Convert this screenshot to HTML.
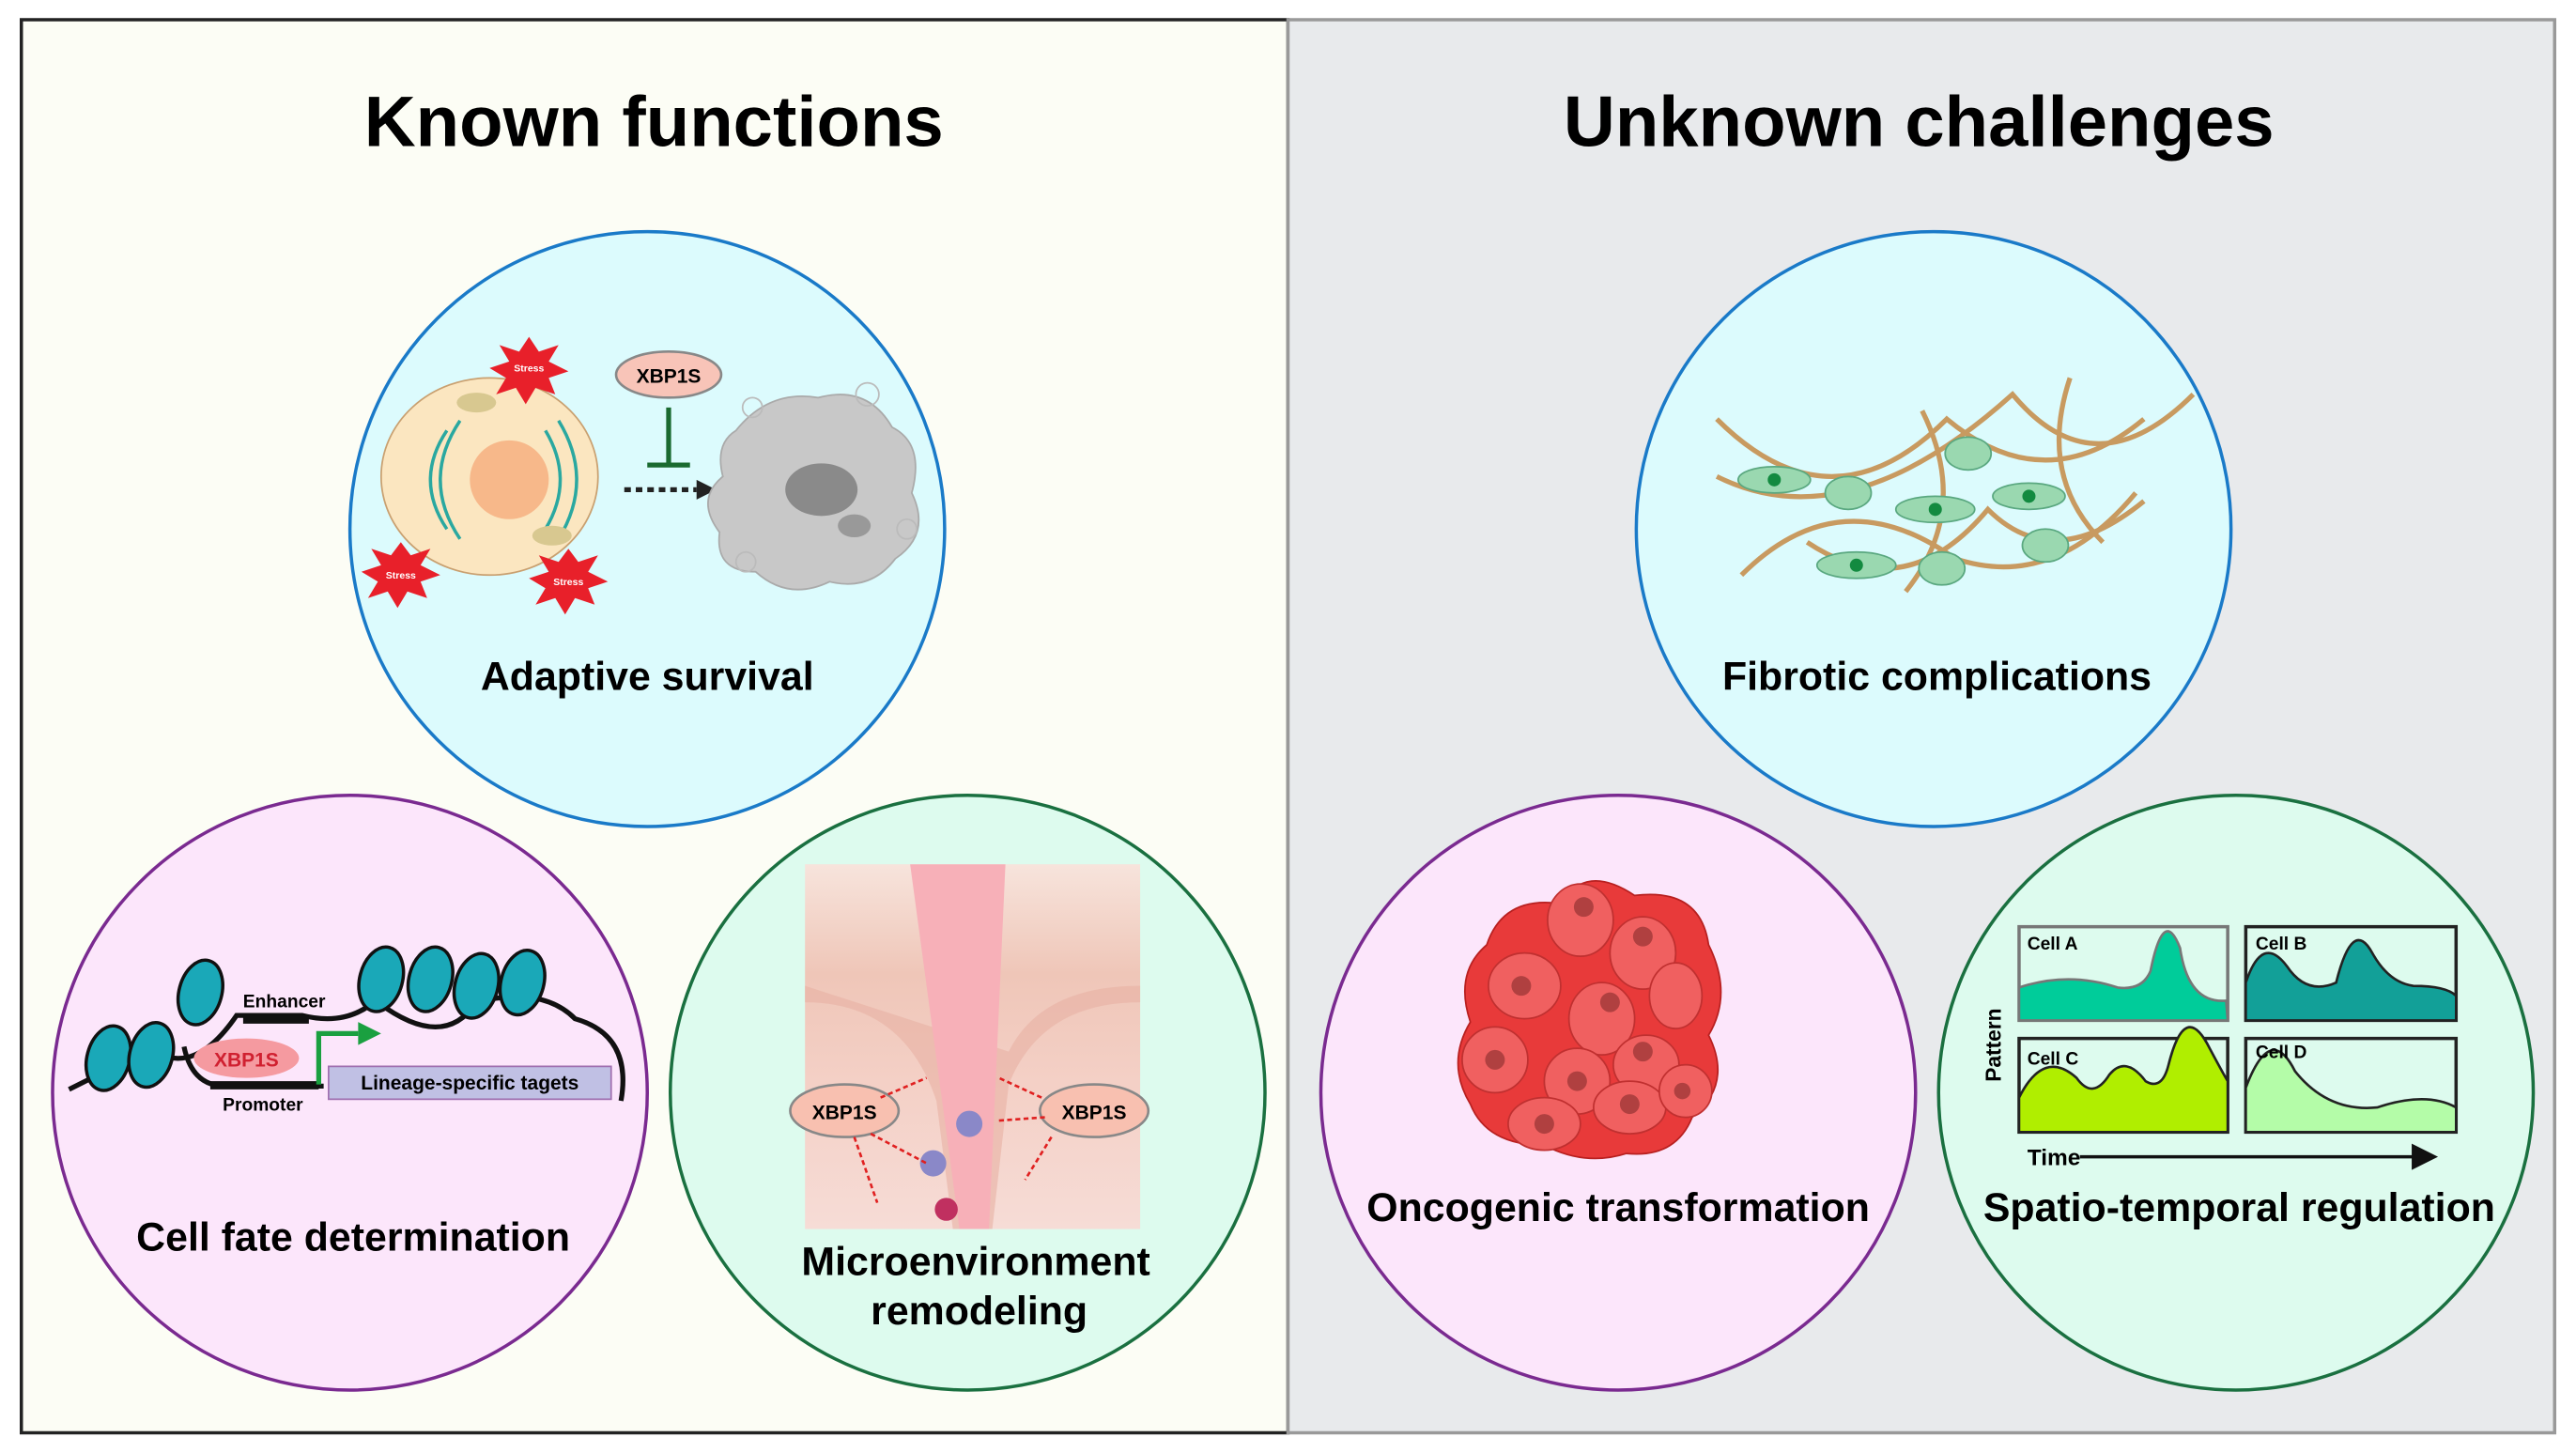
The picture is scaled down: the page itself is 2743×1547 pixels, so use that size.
<!DOCTYPE html>
<html><head><meta charset="utf-8"><style>
html,body{margin:0;padding:0;background:#fff;}
svg{display:block;}
text{font-family:"Liberation Sans",Arial,sans-serif;font-weight:bold;}
</style></head><body>
<svg width="2743" height="1547" viewBox="0 0 1568 884.3" preserveAspectRatio="none" xmlns="http://www.w3.org/2000/svg">
<rect x="0" y="0" width="1568" height="884.3" fill="#fff"/>
<rect x="13" y="12" width="771" height="860" fill="#fcfdf5" stroke="#222" stroke-width="2"/>
<rect x="784" y="12" width="771" height="860" fill="#e8eaec" stroke="#999" stroke-width="2"/>
<text x="398" y="89" font-size="43.5" text-anchor="middle">Known functions</text>
<text x="1168" y="89" font-size="43.5" text-anchor="middle">Unknown challenges</text>

<circle cx="394" cy="322" r="181" fill="#dcfbfd" stroke="#1a7ac8" stroke-width="2"/>
<circle cx="213" cy="665" r="181" fill="#fce6fb" stroke="#7a2a90" stroke-width="2"/>
<circle cx="589" cy="665" r="181" fill="#ddfbee" stroke="#1a7040" stroke-width="2"/>
<circle cx="1177" cy="322" r="181" fill="#dcfbfd" stroke="#1a7ac8" stroke-width="2"/>
<circle cx="985" cy="665" r="181" fill="#fce6fb" stroke="#7a2a90" stroke-width="2"/>
<circle cx="1361" cy="665" r="181" fill="#ddfbee" stroke="#1a7040" stroke-width="2"/>

<!-- adaptive survival -->
<ellipse cx="298" cy="290" rx="66" ry="60" fill="#fbe6c0" stroke="#c9a070" stroke-width="1"/>
<circle cx="310" cy="292" r="24" fill="#f7b88a"/>
<path d="M272 262 q-20 30 0 60 M280 256 q-24 36 0 72 M332 262 q18 30 0 60 M340 256 q22 36 0 72" fill="none" stroke="#2aa8a0" stroke-width="2"/>
<ellipse cx="290" cy="245" rx="12" ry="6" fill="#d8c890"/>
<ellipse cx="336" cy="326" rx="12" ry="6" fill="#d8c890"/>
<polygon points="322,205 328,214 340,210 334,220 346,226 334,230 338,240 326,236 320,246 314,236 302,240 308,230 298,224 310,220 304,210 316,214" fill="#e8202a"/>
<polygon points="244,330 250,338 262,334 256,344 268,350 256,354 260,364 248,360 242,370 236,360 224,364 230,354 220,348 232,344 226,334 238,338" fill="#e8202a"/>
<polygon points="346,334 352,342 364,338 358,348 370,354 358,358 362,368 350,364 344,374 338,364 326,368 332,358 322,352 334,348 328,338 340,342" fill="#e8202a"/>
<text x="322" y="226" font-size="6" fill="#fff" text-anchor="middle">Stress</text>
<text x="244" y="352" font-size="6" fill="#fff" text-anchor="middle">Stress</text>
<text x="346" y="356" font-size="6" fill="#fff" text-anchor="middle">Stress</text>
<ellipse cx="407" cy="228" rx="32" ry="14" fill="#f8c4b8" stroke="#888" stroke-width="1.5"/>
<text x="407" y="233" font-size="12" text-anchor="middle">XBP1S</text>
<line x1="407" y1="248" x2="407" y2="282" stroke="#1a6a30" stroke-width="3"/>
<line x1="394" y1="283" x2="420" y2="283" stroke="#1a6a30" stroke-width="3"/>
<line x1="380" y1="298" x2="424" y2="298" stroke="#222" stroke-width="3" stroke-dasharray="4,3"/>
<polygon points="424,292 436,298 424,304" fill="#222"/>
<path d="M448 262 q20 -25 50 -20 q30 -8 45 18 q20 10 12 40 q12 25 -10 40 q-15 20 -40 14 q-25 12 -45 -6 q-25 0 -22 -24 q-15 -20 2 -34 q-5 -20 8 -28z" fill="#c8c8c8" stroke="#aaa"/>
<ellipse cx="500" cy="298" rx="22" ry="16" fill="#8a8a8a"/>
<ellipse cx="520" cy="320" rx="10" ry="7" fill="#999"/>
<circle cx="458" cy="248" r="6" fill="none" stroke="#bbb"/><circle cx="528" cy="240" r="7" fill="none" stroke="#bbb"/>
<circle cx="552" cy="322" r="6" fill="none" stroke="#bbb"/><circle cx="454" cy="342" r="6" fill="none" stroke="#bbb"/>
<text x="394" y="420" font-size="24.5" text-anchor="middle">Adaptive survival</text>

<!-- cell fate -->
<path d="M42 663 q10 -5 20 -10 M84 632 q30 30 60 -14 l40 0 q40 10 60 -30 M112 637 q5 24 25 24 l60 0 M230 610 q40 30 60 0 q40 -10 60 10 q35 10 28 50" fill="none" stroke="#111" stroke-width="3"/>
<g fill="#1aa8b8" stroke="#111" stroke-width="2">
<ellipse cx="66" cy="644" rx="13" ry="20" transform="rotate(15 66 644)"/>
<ellipse cx="92" cy="642" rx="13" ry="20" transform="rotate(15 92 642)"/>
<ellipse cx="122" cy="604" rx="13" ry="20" transform="rotate(15 122 604)"/>
<ellipse cx="232" cy="596" rx="13" ry="20" transform="rotate(15 232 596)"/>
<ellipse cx="262" cy="596" rx="13" ry="20" transform="rotate(15 262 596)"/>
<ellipse cx="290" cy="600" rx="13" ry="20" transform="rotate(15 290 600)"/>
<ellipse cx="318" cy="598" rx="13" ry="20" transform="rotate(15 318 598)"/>
</g>
<rect x="148" y="618" width="40" height="5" fill="#111"/>
<text x="173" y="613" font-size="11" text-anchor="middle" font-weight="normal">Enhancer</text>
<ellipse cx="150" cy="644" rx="32" ry="12" fill="#f59aa0"/>
<text x="150" y="649" font-size="12" fill="#d02030" text-anchor="middle" font-weight="normal">XBP1S</text>
<rect x="128" y="658" width="66" height="5" fill="#111"/>
<text x="160" y="676" font-size="11" text-anchor="middle" font-weight="normal">Promoter</text>
<path d="M194 660 L194 629 L218 629" fill="none" stroke="#1aa040" stroke-width="3"/>
<polygon points="218,622 232,629 218,636" fill="#1aa040"/>
<rect x="200" y="649" width="172" height="20" fill="#c0c0e4" stroke="#a070b0"/>
<text x="286" y="663" font-size="12" text-anchor="middle" font-weight="normal">Lineage-specific tagets</text>
<text x="215" y="761" font-size="24.5" text-anchor="middle">Cell fate determination</text>

<!-- microenvironment -->
<defs><linearGradient id="sk" x1="0" y1="0" x2="0" y2="1"><stop offset="0" stop-color="#f7e4dc"/><stop offset="0.3" stop-color="#efc6b8"/><stop offset="0.6" stop-color="#f4d0c6"/><stop offset="1" stop-color="#f6dcd6"/></linearGradient></defs>
<rect x="490" y="526" width="204" height="222" fill="url(#sk)"/>
<path d="M490 610 q60 0 80 60 L580 748 L604 748 L614 660 q20 -50 80 -50 L694 600 q-60 0 -80 40 L490 600z" fill="#e8b0a4" opacity="0.6"/>
<path d="M554 526 L612 526 L602 748 L584 748z" fill="#f7b0b8"/>
<ellipse cx="514" cy="676" rx="33" ry="16" fill="#f8c0b0" stroke="#888" stroke-width="1.5"/>
<text x="514" y="681" font-size="12" text-anchor="middle">XBP1S</text>
<ellipse cx="666" cy="676" rx="33" ry="16" fill="#f8c0b0" stroke="#888" stroke-width="1.5"/>
<text x="666" y="681" font-size="12" text-anchor="middle">XBP1S</text>
<circle cx="590" cy="684" r="8" fill="#8a88c8"/><circle cx="568" cy="708" r="8" fill="#8a88c8"/>
<circle cx="576" cy="736" r="7" fill="#c03060"/>
<g stroke="#e02020" stroke-width="1.5" stroke-dasharray="3,2" fill="none">
<path d="M536 668 l28 -12"/><path d="M530 690 l34 18"/><path d="M520 692 l14 40"/>
<path d="M634 668 l-26 -12"/><path d="M636 680 l-28 2"/><path d="M640 692 l-16 26"/>
</g>
<text x="594" y="776" font-size="24.5" text-anchor="middle">Microenvironment</text>
<text x="596" y="806" font-size="24.5" text-anchor="middle">remodeling</text>

<!-- fibrotic -->
<g fill="none" stroke="#c89a60" stroke-width="3">
<path d="M1045 255 q70 70 140 0 q60 50 120 0"/>
<path d="M1045 290 q80 40 180 -50 q50 60 110 0"/>
<path d="M1060 350 q60 -60 130 -10 q60 20 110 -40"/>
<path d="M1100 330 q60 40 110 -20 q40 40 95 -5"/>
<path d="M1170 250 q30 60 -10 110 M1260 230 q-20 60 20 100"/>
</g>
<g fill="#9ad8b0" stroke="#5aa880"><ellipse cx="1080" cy="292" rx="22" ry="8"/><ellipse cx="1178" cy="310" rx="24" ry="8"/><ellipse cx="1235" cy="302" rx="22" ry="8"/><ellipse cx="1130" cy="344" rx="24" ry="8"/><ellipse cx="1125" cy="300" rx="14" ry="10"/><ellipse cx="1198" cy="276" rx="14" ry="10"/><ellipse cx="1245" cy="332" rx="14" ry="10"/><ellipse cx="1182" cy="346" rx="14" ry="10"/></g>
<g fill="#138a40"><circle cx="1080" cy="292" r="4"/><circle cx="1178" cy="310" r="4"/><circle cx="1235" cy="302" r="4"/><circle cx="1130" cy="344" r="4"/></g>
<text x="1179" y="420" font-size="24.5" text-anchor="middle">Fibrotic complications</text>

<!-- oncogenic -->
<path d="M905 575 q10 -30 45 -25 q15 -25 45 -5 q40 -5 45 30 q15 30 0 55 q15 30 -10 50 q-10 25 -40 22 q-25 8 -50 -5 q-35 0 -45 -25 q-15 -25 0 -50 q-10 -30 10 -47z" fill="#e83a3a" stroke="#b82020"/>
<g fill="#f06060" stroke="#c03030">
<ellipse cx="962" cy="560" rx="20" ry="22"/><ellipse cx="1000" cy="580" rx="20" ry="22"/><ellipse cx="928" cy="600" rx="22" ry="20"/><ellipse cx="975" cy="620" rx="20" ry="22"/><ellipse cx="1020" cy="606" rx="16" ry="20"/><ellipse cx="910" cy="645" rx="20" ry="20"/><ellipse cx="960" cy="658" rx="20" ry="20"/><ellipse cx="1002" cy="648" rx="20" ry="18"/><ellipse cx="940" cy="684" rx="22" ry="16"/><ellipse cx="992" cy="674" rx="22" ry="16"/><ellipse cx="1026" cy="664" rx="16" ry="16"/>
</g>
<g fill="#b04040"><circle cx="964" cy="552" r="6"/><circle cx="1000" cy="570" r="6"/><circle cx="926" cy="600" r="6"/><circle cx="980" cy="610" r="6"/><circle cx="910" cy="645" r="6"/><circle cx="960" cy="658" r="6"/><circle cx="1000" cy="640" r="6"/><circle cx="940" cy="684" r="6"/><circle cx="992" cy="672" r="6"/><circle cx="1024" cy="664" r="5"/></g>
<text x="985" y="743" font-size="24.5" text-anchor="middle">Oncogenic transformation</text>

<!-- spatio-temporal -->
<rect x="1229" y="564" width="127" height="57" fill="#ddfbee" stroke="#777" stroke-width="2"/>
<path d="M1229 601 q30 -10 60 0 q15 2 20 -10 q8 -40 18 -14 q5 34 28 32 L1356 621 L1229 621z" fill="#00cc9a" stroke="#777" stroke-width="1.5"/>
<rect x="1367" y="564" width="128" height="57" fill="#ddfbee" stroke="#222" stroke-width="2"/>
<path d="M1367 598 q10 -30 25 -10 q12 18 30 10 q10 -40 22 -18 q10 18 25 20 q20 0 26 6 L1495 621 L1367 621z" fill="#12a098" stroke="#222" stroke-width="1.5"/>
<rect x="1229" y="632" width="127" height="57" fill="#ddfbee" stroke="#222" stroke-width="2"/>
<path d="M1229 668 q15 -30 35 -12 q10 14 20 -2 q10 -12 22 4 q10 6 14 -10 q10 -40 25 -10 q8 15 11 20 L1356 689 L1229 689z" fill="#b0ee00" stroke="#222" stroke-width="1.5"/>
<rect x="1367" y="632" width="128" height="57" fill="#ddfbee" stroke="#222" stroke-width="2"/>
<path d="M1367 662 q15 -40 30 -10 q20 25 50 22 q30 -10 48 0 L1495 689 L1367 689z" fill="#b4fca8" stroke="#222" stroke-width="1.5"/>
<text x="1234" y="578" font-size="11" font-weight="normal">Cell A</text>
<text x="1373" y="578" font-size="11" font-weight="normal">Cell B</text>
<text x="1234" y="648" font-size="11" font-weight="normal">Cell C</text>
<text x="1373" y="644" font-size="11" font-weight="normal">Cell D</text>
<text x="1218" y="636" font-size="13" text-anchor="middle" transform="rotate(-90 1218 636)">Pattern</text>
<text x="1234" y="709" font-size="14">Time</text>
<line x1="1266" y1="704" x2="1472" y2="704" stroke="#111" stroke-width="2"/>
<polygon points="1468,696 1484,704 1468,712" fill="#111"/>
<text x="1363" y="743" font-size="24.5" text-anchor="middle">Spatio-temporal regulation</text>
</svg>
</body></html>
